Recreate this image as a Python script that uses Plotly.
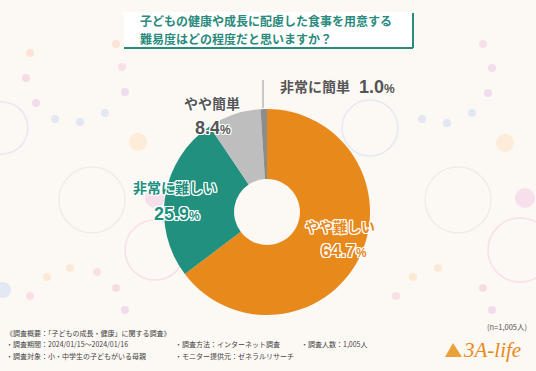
import plotly.graph_objects as go

labels = ["やや難しい", "非常に難しい", "やや簡単", "非常に簡単"]
values = [64.7, 25.9, 8.4, 1.0]
colors = ["#e8891c", "#21907e", "#bebebe", "#8c8c8c"]
title_lines = ["子どもの健康や成長に配慮した食事を用意する", "難易度はどの程度だと思いますか？"]
n_note = "(n=1,005人)"
footer = [
    ("《調査概要：「子どもの成長・健康」に関する調査》", 4, 333),
    ("・調査期間：2024/01/15～2024/01/16", 4, 344),
    ("・調査対象：小・中学生の子どもがいる母親", 4, 356),
    ("・調査方法：インターネット調査", 173, 344),
    ("・モニター提供元：ゼネラルリサーチ", 173, 356),
    ("・調査人数：1,005人", 299, 344),
]

W, H = 536, 371
FONT = "Noto Sans CJK JP"

def px(x):
    return x / W

def py(y):
    return 1 - y / H

cx, cy, r = 267, 212, 103

fig = go.Figure()
fig.add_trace(go.Pie(
    labels=labels, values=values, sort=False, direction="clockwise", rotation=0,
    hole=0.32, marker=dict(colors=colors, line=dict(width=0)),
    textinfo="none", hoverinfo="label+percent", showlegend=False,
    domain=dict(x=[px(cx - r), px(cx + r)], y=[py(cy + r), py(cy - r)]),
))

outline = ("-1px -1px 0 #fff, 1px -1px 0 #fff, -1px 1px 0 #fff, 1px 1px 0 #fff, "
           "0 1px 0 #fff, 0 -1px 0 #fff, 1px 0 0 #fff, -1px 0 0 #fff")
# label positions (pixels): (label x, label y, pct x, pct y, color, shadow)
label_pos = [
    (340, 226, 344, 251, "#e8891c", outline),
    (175, 187, 177, 214, "#21907e", outline),
    (212, 103, 213, 128, "#555555", outline),
    (315, 86, 377, 87, "#555555", "none"),
]
ann = []
for lab, val, (lx, ly, vx, vy, col, sh) in zip(labels, values, label_pos):
    ann.append(dict(x=px(lx), y=py(ly), xref="paper", yref="paper", xanchor="center", yanchor="middle",
                    text=f"<b>{lab}</b>", showarrow=False,
                    font=dict(family=FONT, size=14, color=col, shadow=sh)))
    ann.append(dict(x=px(vx), y=py(vy), xref="paper", yref="paper", xanchor="center", yanchor="middle",
                    text=f"<b>{val:.1f}</b><span style='font-size:12px'><b>%</b></span>", showarrow=False,
                    font=dict(family="Liberation Sans Narrow, Liberation Sans", size=18, color=col, shadow=sh)))

# title
for i, t in enumerate(title_lines):
    ann.append(dict(x=px(138), y=py(21 + i * 17), xref="paper", yref="paper", xanchor="left", yanchor="middle",
                    text=f"<b>{t}</b>", showarrow=False,
                    font=dict(family=FONT, size=12, color="#2a8a7c")))

ann.append(dict(x=px(529), y=py(326), xref="paper", yref="paper", xanchor="right", yanchor="middle",
                text=n_note, showarrow=False, font=dict(family=FONT, size=7.5, color="#555")))
for t, x, y in footer:
    ann.append(dict(x=px(x), y=py(y), xref="paper", yref="paper", xanchor="left", yanchor="middle", text=t,
                    showarrow=False, font=dict(family=FONT, size=7, color="#444")))
ann.append(dict(x=px(461), y=py(350), xref="paper", yref="paper", xanchor="left", yanchor="middle",
                text="<i>3A-life</i>", showarrow=False,
                font=dict(family="Liberation Serif", size=21, color="#e8891c")))

shapes = []

def circ(x0, y0, rr, fill=None, ring=None):
    return dict(type="circle", xref="paper", yref="paper", x0=px(x0 - rr), x1=px(x0 + rr),
                y0=py(y0 + rr), y1=py(y0 - rr), fillcolor=fill if fill else "rgba(0,0,0,0)",
                line=dict(width=1.5 if ring else 0, color=ring if ring else "rgba(0,0,0,0)"), layer="below")

# faint decorative background: rings and small dots
for (x0, y0, rr, c) in [(2, 128, 26, "#e6e8f4"), (155, 250, 30, "#f8e0e6"), (520, 250, 32, "#f8e0e6"),
                         (370, 128, 28, "#e6e8f4"), (92, 200, 33, "#f1ece6"), (458, 200, 33, "#f1ece6")]:
    shapes.append(circ(x0, y0, rr, ring=c))
dots = [(30, 53, "#fbe3d6"), (26, 78, "#f7dce6"), (36, 103, "#f3dcee"), (55, 119, "#e3e6f3"),
        (80, 122, "#e1e7f3"), (105, 113, "#e3e6f3"), (125, 92, "#f1dcee"), (122, 67, "#f8dfe8"),
        (116, 44, "#fbe3d6"), (483, 44, "#f8dfe8"), (492, 68, "#f3dcee"), (488, 93, "#f1dcee"),
        (472, 113, "#e3e6f3"), (447, 123, "#e1e7f3"), (422, 119, "#e3e6f3"),
        (70, 268, "#fbe9d6"), (47, 277, "#fbe9d6"), (30, 296, "#f8dfe8"), (97, 272, "#f8dfe8"),
        (116, 288, "#f7dce6"), (125, 310, "#f1dcee"), (438, 268, "#fbe9d6"), (413, 277, "#fbe9d6"),
        (396, 296, "#f8dfe8"), (483, 288, "#f7dce6"), (492, 310, "#f1dcee")]
for (x0, y0, c) in dots:
    shapes.append(circ(x0, y0, 4, fill=c))
for (x0, y0, rr, c) in [(138, 142, 9, "#fcecd8"), (505, 143, 9, "#fcecd8"), (155, 198, 10, "#f8dfec"),
                         (525, 198, 10, "#f8dfec"), (3, 290, 8, "#e3e8f2")]:
    shapes.append(circ(x0, y0, rr, fill=c))
# title box
shapes.append(dict(type="rect", xref="paper", yref="paper", x0=px(124), x1=px(412), y0=py(48), y1=py(12),
                   fillcolor="white", line=dict(width=0), layer="below"))
shapes.append(dict(type="line", xref="paper", yref="paper", x0=px(124), x1=px(413), y0=py(48), y1=py(48),
                   line=dict(color="#2a8a7c", width=2)))
shapes.append(dict(type="line", xref="paper", yref="paper", x0=px(413), x1=px(413), y0=py(48), y1=py(13),
                   line=dict(color="#2a8a7c", width=2)))
# leader line for 1.0%
shapes.append(dict(type="line", xref="paper", yref="paper", x0=px(263), x1=px(263), y0=py(108), y1=py(80),
                   line=dict(color="#9a9a9a", width=1)))
# logo triangle
shapes.append(dict(type="path", xref="paper", yref="paper",
                   path=f"M {px(445)} {py(357)} L {px(453)} {py(343)} L {px(462)} {py(357)} Z",
                   fillcolor="#eaa13a", line=dict(width=0)))

fig.update_layout(width=W, height=H, margin=dict(l=0, r=0, t=0, b=0),
                  paper_bgcolor="#fcf8f4", plot_bgcolor="#fcf8f4",
                  annotations=ann, shapes=shapes)
fig.write_html("out.html", config={"displayModeBar": False},
               post_script="document.body.style.margin='0';document.body.style.overflow='hidden';")
